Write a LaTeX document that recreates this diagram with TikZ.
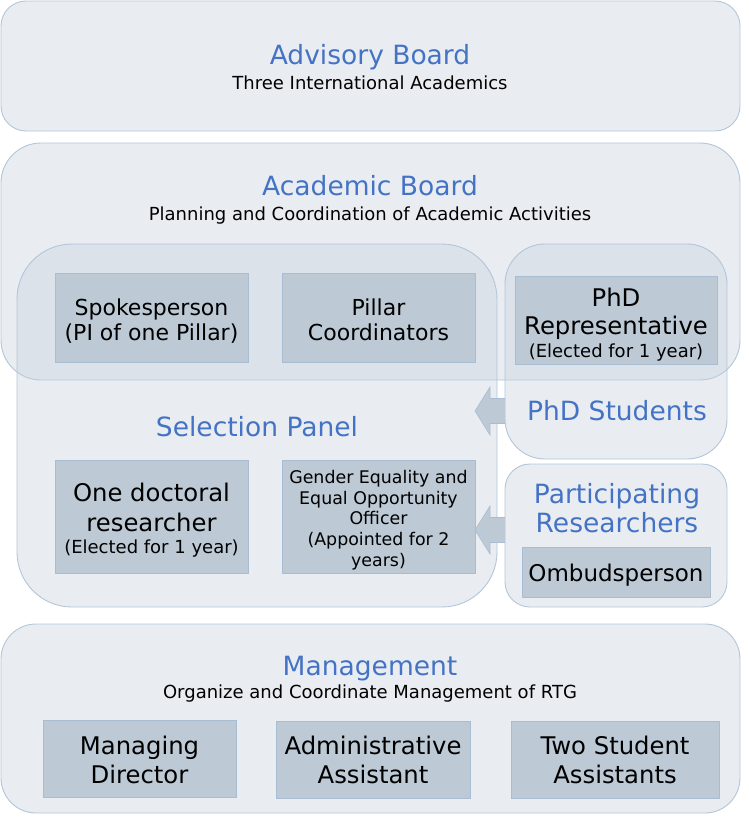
\documentclass[tikz,border=0pt]{standalone}
\usepackage{fontspec}
\setmainfont{DejaVu Sans}
\usetikzlibrary{calc}
\definecolor{panelfill}{HTML}{C5D0DC}
\definecolor{panelline}{HTML}{B2C5DA}
\definecolor{innerfill}{HTML}{BDCAD5}
\definecolor{innerline}{HTML}{A8BDD2}
\definecolor{titleblue}{HTML}{4472C4}
\tikzset{
  panel/.style={draw=panelline, line width=0.9pt, fill=panelfill, fill opacity=0.38},
  inner/.style={draw=innerline, line width=0.8pt, fill=innerfill},
  blockarrow/.style={draw=innerline, line width=0.6pt, fill=innerfill},
  ttl/.style={text=titleblue, font=\fontsize{26.5}{30}\selectfont, anchor=base, inner sep=0pt},
  sub/.style={text=black, font=\fontsize{18}{21}\selectfont, anchor=base, inner sep=0pt},
  lbl/.style={text=black, anchor=base, inner sep=0pt},
  fa/.style={font=\fontsize{22}{26}\selectfont},
  fb/.style={font=\fontsize{24.3}{29}\selectfont},
  fc/.style={font=\fontsize{18}{21}\selectfont},
  fd/.style={font=\fontsize{17.4}{20}\selectfont},
  fe/.style={font=\fontsize{23}{27}\selectfont},
}
\begin{document}
\begin{tikzpicture}[x=1pt,y=-1pt]
\useasboundingbox (0,0) rectangle (748,825);
% panels
\draw[panel, rounded corners=25pt] (1,1) rectangle (740,131);
\draw[panel, rounded corners=40pt] (1,143) rectangle (740,380);
\draw[panel, rounded corners=55pt] (17,244) rectangle (497,607);
\draw[panel, rounded corners=40pt] (505,244) rectangle (727,459);
\draw[panel, rounded corners=25pt] (505,464) rectangle (727,607);
\draw[panel, rounded corners=35pt] (1,624) rectangle (740,813);
% inner boxes
\draw[inner] (55,273) rectangle (248,362);
\draw[inner] (282,273) rectangle (475,362);
\draw[inner] (515,276) rectangle (717,364);
\draw[inner] (55,460) rectangle (248,573);
\draw[inner] (282,460) rectangle (475,573);
\draw[inner] (522,547) rectangle (710,597);
\draw[inner] (43,720) rectangle (236,797);
\draw[inner] (276,721) rectangle (470,798);
\draw[inner] (511,721) rectangle (719,798);
% block arrows
\coordinate (phdsrc) at (505,411);
\coordinate (phdtip) at (475,411);
\coordinate (parsrc) at (505,530);
\coordinate (partip) at (475,530);
\draw[blockarrow] ($(phdsrc)+(0,-12.5)$) -- ($(phdtip)+(15,-12.5)$) -- ($(phdtip)+(15,-24)$) -- (phdtip) -- ($(phdtip)+(15,24)$) -- ($(phdtip)+(15,12.5)$) -- ($(phdsrc)+(0,12.5)$);
\draw[blockarrow] ($(parsrc)+(0,-12.5)$) -- ($(partip)+(15,-12.5)$) -- ($(partip)+(15,-24)$) -- (partip) -- ($(partip)+(15,24)$) -- ($(partip)+(15,12.5)$) -- ($(parsrc)+(0,12.5)$);
% titles
\node[ttl] (adv) at (370,64.5) {Advisory Board};
\node[sub] (advs) at (370,89) {Three International Academics};
\node[ttl] (acad) at (370,195.5) {Academic Board};
\node[sub] (acads) at (370,220) {Planning and Coordination of Academic Activities};
\node[ttl] (sel) at (257,436.5) {Selection Panel};
\node[ttl] (phds) at (617,420) {PhD Students};
\node[ttl] (part1) at (617,503) {Participating};
\node[ttl] (part2) at (617,532) {Researchers};
\node[ttl] (mgmt) at (370,675) {Management};
\node[sub] (mgmts) at (370,698.5) {Organize and Coordinate Management of RTG};
% inner labels
\node[lbl, fa] (spk1) at (151.5,315) {Spokesperson};
\node[lbl, fa] (spk2) at (151.5,340) {(PI of one Pillar)};
\node[lbl, fa] (pil1) at (378.5,315) {Pillar};
\node[lbl, fa] (pil2) at (378.5,340) {Coordinators};
\node[lbl, fb] (phdr1) at (616,306.5) {PhD};
\node[lbl, fb] (phdr2) at (616,334.5) {Representative};
\node[lbl, fc] (phdr3) at (616,357.5) {(Elected for 1 year)};
\node[lbl, fb] (doc1) at (151.5,501.5) {One doctoral};
\node[lbl, fb] (doc2) at (151.5,531) {researcher};
\node[lbl, fc] (doc3) at (151.5,553.5) {(Elected for 1 year)};
\node[lbl, fd] (gen1) at (378.5,483.5) {Gender Equality and};
\node[lbl, fd] (gen2) at (378.5,504.2) {Equal Opportunity};
\node[lbl, fd] (gen3) at (378.5,524.9) {Officer};
\node[lbl, fd] (gen4) at (378.5,545.6) {(Appointed for 2};
\node[lbl, fd] (gen5) at (378.5,566.3) {years)};
\node[lbl, fe] (omb) at (616,581.5) {Ombudsperson};
\node[lbl, fb] (md1) at (139.5,754) {Managing};
\node[lbl, fb] (md2) at (139.5,783.5) {Director};
\node[lbl, fb] (aa1) at (373,754.5) {Administrative};
\node[lbl, fb] (aa2) at (373,783.5) {Assistant};
\node[lbl, fb] (tsa1) at (615,754.5) {Two Student};
\node[lbl, fb] (tsa2) at (615,783.5) {Assistants};
\end{tikzpicture}
\end{document}
